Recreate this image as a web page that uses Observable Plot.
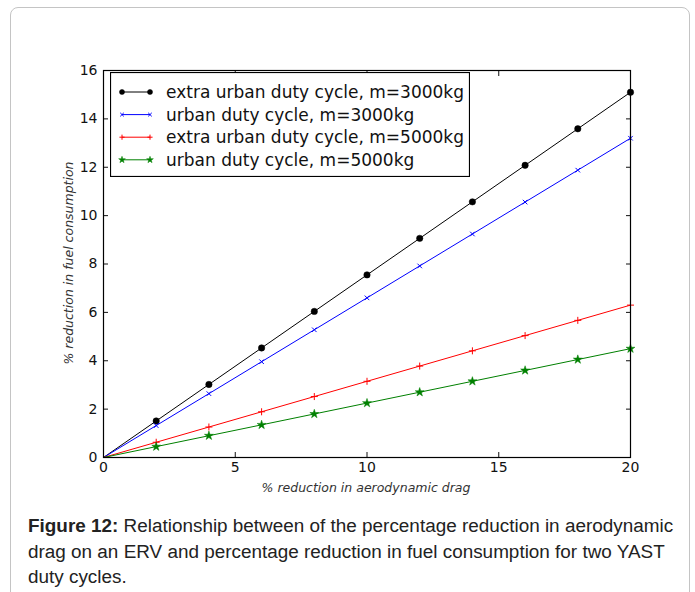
<!DOCTYPE html>
<html><head><meta charset="utf-8">
<script src="https://cdn.jsdelivr.net/npm/d3@7"></script>
<script src="https://cdn.jsdelivr.net/npm/@observablehq/plot@0.6"></script>
<style>
body{margin:0;background:#fff;}
#wrap{position:relative;width:695px;height:592px;overflow:hidden;background:#fff;}
#border{position:absolute;left:10px;top:7px;width:680px;height:640px;border:1px solid #c4c4c4;border-radius:8px;box-sizing:border-box;}
#chart{position:absolute;left:0;top:0;}
#legend{position:absolute;left:110px;top:72px;}
.axlabel{position:absolute;font-family:"DejaVu Sans";font-style:italic;font-size:12.5px;color:#333;white-space:nowrap;}
#xlabel{left:366px;top:480px;transform:translateX(-50%);}
#ylabel{left:68px;top:263px;transform:translate(-50%,-50%) rotate(-90deg);}
#caption{position:absolute;left:28px;top:514px;font-family:"Liberation Sans",Arial,sans-serif;font-size:18px;line-height:25.5px;color:#222;transform:scaleX(1.05);transform-origin:0 0;}
#caption div{white-space:nowrap;}
</style>
</head><body>
<div id="wrap">
  <div id="border"></div>
  <div id="chart"></div>
  <div id="legend"></div>
  <div class="axlabel" id="xlabel"></div>
  <div class="axlabel" id="ylabel"></div>
  <div id="caption"></div>
</div>
<script>
// ---- data ----
const dragReduction = [0, 2, 4, 6, 8, 10, 12, 14, 16, 18, 20];
const seriesNames = [
  "extra urban duty cycle, m=3000kg",
  "urban duty cycle, m=3000kg",
  "extra urban duty cycle, m=5000kg",
  "urban duty cycle, m=5000kg"
];
const extraUrban3000 = [0, 1.51, 3.02, 4.53, 6.04, 7.55, 9.06, 10.57, 12.08, 13.59, 15.10];
const urban3000      = [0, 1.32, 2.64, 3.96, 5.28, 6.60, 7.92, 9.24, 10.56, 11.88, 13.20];
const extraUrban5000 = [0, 0.63, 1.26, 1.89, 2.52, 3.15, 3.78, 4.41, 5.04, 5.67, 6.30];
const urban5000      = [0, 0.45, 0.90, 1.35, 1.80, 2.25, 2.70, 3.15, 3.60, 4.05, 4.50];
const seriesValues = [extraUrban3000, urban3000, extraUrban5000, urban5000];
const seriesColors = ["#000000", "#0000ff", "#ff0000", "#008000"];
const seriesSymbols = ["circle", "times", "plus", "star"];
const xTicks = [0, 5, 10, 15, 20];
const yTicks = [0, 2, 4, 6, 8, 10, 12, 14, 16];
const xLabel = "% reduction in aerodynamic drag";
const yLabel = "% reduction in fuel consumption";
const captionBold = "Figure 12:";
const captionLines = [
  " Relationship between of the percentage reduction in aerodynamic",
  "drag on an ERV and percentage reduction in fuel consumption for two YAST",
  "duty cycles."
];

// ---- table ----
const table = seriesNames.flatMap((s, i) =>
  dragReduction.map((x, j) => ({series: s, x, y: seriesValues[i][j]})));

const W = 695, H = 510;
const markerR = {circle: 3.2, times: 2.2, plus: 2.4, star: 2.8};
const markerMarks = seriesNames.map((s, i) => {
  const sym = seriesSymbols[i];
  const filled = sym === "circle" || sym === "star";
  return Plot.dot(table.filter(d => d.series === s && d.x > 0), {
    x: "x", y: "y",
    symbol: () => sym,
    r: markerR[sym],
    fill: filled ? seriesColors[i] : "none",
    stroke: seriesColors[i],
    strokeWidth: filled ? 0.5 : 1
  });
});

const chart = Plot.plot({
  width: W, height: H,
  marginLeft: 103, marginRight: 65, marginTop: 70, marginBottom: 53,
  style: {fontFamily: "DejaVu Sans", fontSize: "14px", color: "#111", background: "transparent"},
  x: {domain: [0, 20]},
  y: {domain: [0, 16]},
  symbol: {domain: seriesSymbols, range: seriesSymbols},
  marks: [
    Plot.line(table, {x: "x", y: "y", z: "series",
      stroke: d => seriesColors[seriesNames.indexOf(d.series)], strokeWidth: 1}),
    ...markerMarks,
    Plot.axisX({anchor: "bottom", ticks: xTicks, tickSize: -5, tickPadding: 10, label: null}),
    Plot.axisX({anchor: "top", ticks: xTicks, tickSize: -5, tickFormat: () => "", label: null}),
    Plot.axisY({anchor: "left", ticks: yTicks, tickSize: -5, tickPadding: 11, label: null}),
    Plot.axisY({anchor: "right", ticks: yTicks, tickSize: -5, tickFormat: () => "", label: null}),
    Plot.frame({stroke: "#000", strokeWidth: 1.2})
  ]
});
document.getElementById("chart").append(chart);

// ---- legend ----
const LW = 360, LH = 105;
const lg = d3.select("#legend").append("svg").attr("width", LW).attr("height", LH)
  .style("display", "block");
lg.append("rect").attr("x", 0.5).attr("y", 0.5).attr("width", LW - 1).attr("height", LH - 1)
  .attr("fill", "#fff").attr("stroke", "#000").attr("stroke-width", 1.2);
const symMap = {circle: d3.symbolCircle, times: d3.symbolTimes, plus: d3.symbolPlus, star: d3.symbolStar};
const legendSize = {circle: 20, times: 10, plus: 10, star: 14};
seriesNames.forEach((s, i) => {
  const cy = 20 + i * 22.6;
  const sym = seriesSymbols[i];
  const g = lg.append("g");
  g.append("line").attr("x1", 12).attr("x2", 40).attr("y1", cy).attr("y2", cy)
    .attr("stroke", seriesColors[i]).attr("stroke-width", 1);
  const filled = sym === "circle" || sym === "star";
  [12, 40].forEach(cx => {
    g.append("path").attr("d", d3.symbol(symMap[sym], legendSize[sym])())
      .attr("transform", `translate(${cx},${cy})`)
      .attr("fill", filled ? seriesColors[i] : "none")
      .attr("stroke", seriesColors[i]).attr("stroke-width", filled ? 0.5 : 1);
  });
  g.append("text").attr("x", 56).attr("y", cy).attr("dy", "0.35em")
    .attr("font-family", "DejaVu Sans").attr("font-size", 17).attr("fill", "#111").text(s);
});

// ---- labels & caption ----
document.getElementById("xlabel").textContent = xLabel;
document.getElementById("ylabel").textContent = yLabel;
const cap = document.getElementById("caption");
captionLines.forEach((line, i) => {
  const div = document.createElement("div");
  if (i === 0) {
    const b = document.createElement("b"); b.textContent = captionBold;
    const sp = document.createElement("span"); sp.textContent = line;
    div.append(b, sp);
  } else {
    div.textContent = line;
  }
  cap.append(div);
});
</script>
</body></html>
